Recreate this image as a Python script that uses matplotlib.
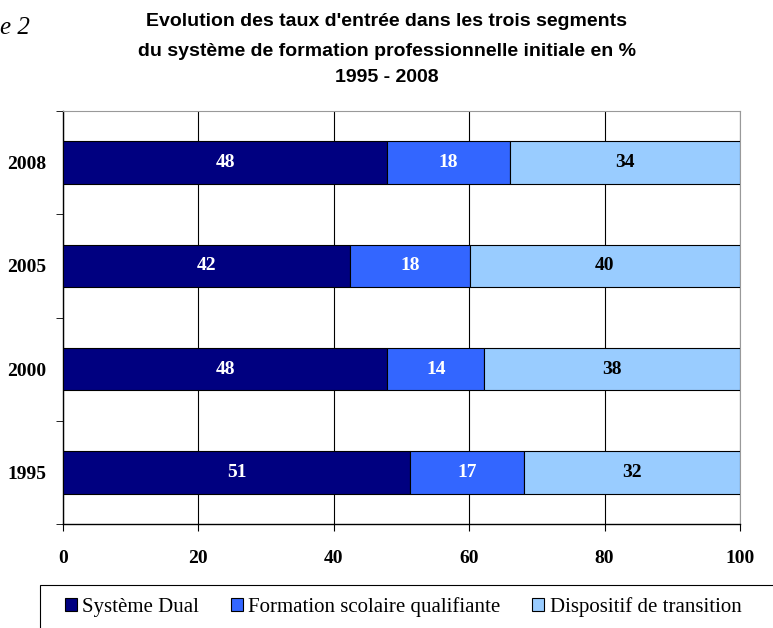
import matplotlib
matplotlib.use("Agg")
import matplotlib.pyplot as plt
import numpy as np
from matplotlib.patches import Rectangle

years = ["1995", "2000", "2005", "2008"]
dual = [51.3, 47.9, 42.4, 47.9]
scolaire = [16.8, 14.3, 17.7, 18.1]
transition = [31.9, 37.8, 39.9, 34.0]
series_names = ["Système Dual", "Formation scolaire qualifiante", "Dispositif de transition"]
colors = ["#000080", "#3366FF", "#99CCFF"]
label_colors = ["white", "white", "black"]

serif = ["Liberation Serif", "DejaVu Serif"]
sans = ["Liberation Sans", "DejaVu Sans"]

fig = plt.figure(figsize=(7.73, 6.28), dpi=100)
ax = fig.add_axes([63 / 773, 1 - 524 / 628, 677 / 773, 413 / 628])

y = np.arange(len(years))
left = np.zeros(len(years))
for vals, name, col, lc in zip([dual, scolaire, transition], series_names, colors, label_colors):
    vals = np.array(vals)
    bars = ax.barh(y, vals, left=left, height=0.41, color=col, edgecolor="black",
                   linewidth=0.8, label=name, zorder=3)
    for b, v in zip(bars, vals):
        ax.text(b.get_x() + b.get_width() / 2, b.get_y() + b.get_height() / 2,
                f"{round(v):d}", ha="center", va="center", color=lc,
                fontsize=14, fontweight="bold", family=serif, zorder=4)
    left += vals

ax.set_xlim(0, 100)
ax.set_ylim(-0.5, len(years) - 0.5)
ax.set_xticks(range(0, 101, 20))
ax.set_yticks(y)
ax.set_yticklabels(years)
ax.set_yticks(np.arange(-0.5, len(years), 1), minor=True)
ax.tick_params(axis="y", which="major", length=0, pad=12)
ax.tick_params(axis="y", which="minor", length=5, direction="out")
ax.tick_params(axis="x", length=5, direction="out", pad=14)
for lab in ax.get_xticklabels() + ax.get_yticklabels():
    lab.set_family(serif)
    lab.set_fontweight("bold")
    lab.set_fontsize(14)
ax.grid(axis="x", color="black", linewidth=0.8, zorder=0)
ax.spines["top"].set_color("#999999")
ax.spines["right"].set_color("#999999")
ax.spines["left"].set_linewidth(1.0)
ax.spines["bottom"].set_linewidth(1.0)

# title
fig.text(387 / 773, 1 - 22 / 628, "Evolution des taux d'entrée dans les trois segments",
         ha="center", va="center", fontsize=14, fontweight="bold", family=sans)
fig.text(387 / 773, 1 - 52 / 628, "du système de formation professionnelle initiale en %",
         ha="center", va="center", fontsize=14, fontweight="bold", family=sans)
fig.text(387 / 773, 1 - 78 / 628, "1995 - 2008", ha="center", va="center",
         fontsize=14, fontweight="bold", family=sans)
fig.text(0, 1 - 28 / 628, "e 2", ha="left", va="center", fontsize=18,
         style="italic", family=serif)

# legend box
fig.patches.append(Rectangle((40 / 773, -0.1), 1.0, 0.1 + (1 - 585 / 628),
                             transform=fig.transFigure, facecolor="white",
                             edgecolor="black", linewidth=0.8))
fig.legend(loc="center left", bbox_to_anchor=(46 / 773, 1 - 607 / 628), ncol=3,
           frameon=False, prop={"family": serif, "size": 15}, handlelength=0.6,
           handleheight=0.6, handletextpad=0.25, columnspacing=1.5)

fig.savefig("out.png", dpi=100)
